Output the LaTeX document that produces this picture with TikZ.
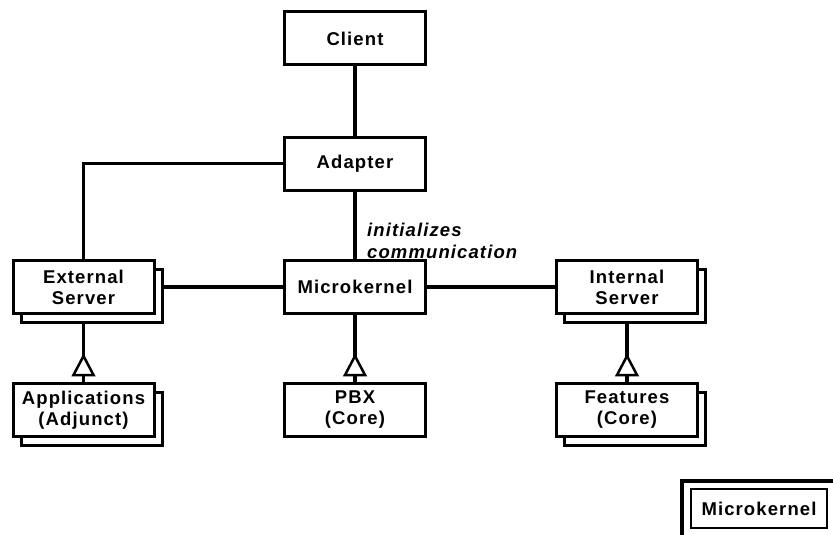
\documentclass[tikz,border=0pt]{standalone}
\usepackage{fontspec}
\newfontfamily\boxfont[LetterSpace=6]{Liberation Sans}
\usetikzlibrary{shadows,backgrounds}

\newcommand{\unitfont}{\boxfont\bfseries\fontsize{18.5}{21}\selectfont}
\newcommand{\notefont}{\boxfont\bfseries\itshape\fontsize{18.5}{22}\selectfont}

\tikzset{
  unit/.style={draw, line width=3pt, fill=white, minimum width=141pt,
    minimum height=53pt, inner sep=0pt, align=center, font=\unitfont},
  multi/.style={unit, general shadow={draw=black, fill=white, line width=3pt,
    shadow xshift=8pt, shadow yshift=-9pt}},
  wire/.style={line width=3.2pt},
  gentri/.style={draw, line width=2.5pt, fill=white, line join=miter},
}

\begin{document}
\begin{tikzpicture}[x=1pt, y=-1pt]
  \useasboundingbox (0,0) rectangle (833,535);
  \clip (0,0) rectangle (833,535);

  % components
  \node[unit]  (client) at (355,38.5)  {Client};
  \node[unit]  (adapt)  at (355,163.5) {Adapter};
  \node[unit]  (mk)     at (355,287)   {Microkernel};
  \node[multi] (ext)    at (83.5,287)  {External\\Server};
  \node[multi] (int)    at (627,287)   {Internal\\Server};
  \node[multi] (app)    at (83.5,410)  {Applications\\(Adjunct)};
  \node[unit]  (pbx)    at (355,410)   {PBX\\(Core)};
  \node[multi] (feat)   at (627,410)   {Features\\(Core)};

  \node[font=\notefont, anchor=west, align=left, inner sep=0pt] (note)
    at (367,241) {initializes\\communication};

  % connectors behind the boxes
  \begin{scope}[on background layer]
    \draw[wire] (client.south) -- (adapt.north);
    \draw[wire] (adapt.south) -- (mk.north);
    \draw[wire] (adapt.west) -| (ext.north);
    \draw[wire] (ext.east) -- (mk.west);
    \draw[wire] (mk.east) -- (int.west);
    \draw[wire] (ext.south) -- (app.north);
    \draw[wire] (mk.south) -- (pbx.north);
    \draw[wire] (int.south) -- (feat.north);
  \end{scope}

  % generalisation triangles
  \foreach \n in {app,pbx,feat}
    \draw[gentri] ([shift={(0,-26)}]\n.north) -- ([shift={(10,-7)}]\n.north)
      -- ([shift={(-10,-7)}]\n.north) -- cycle;

  % legend
  \draw[line width=3.5pt] (682,481) rectangle (860,560);
  \node[unit, line width=2.5pt, minimum width=136pt, minimum height=39pt]
    (legend) at (759,508.5) {Microkernel};
\end{tikzpicture}
\end{document}
